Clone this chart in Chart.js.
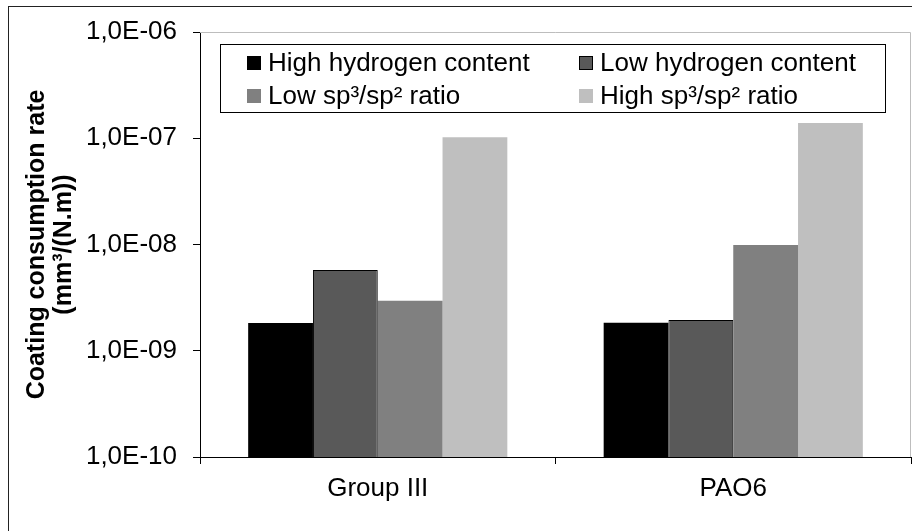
<!DOCTYPE html>
<html>
<head>
<meta charset="utf-8">
<script src="https://cdn.jsdelivr.net/npm/chart.js@4"></script>
<style>
  html, body { margin: 0; padding: 0; background: #fff; }
  #wrap { width: 912px; height: 531px; position: relative; }
</style>
</head>
<body>
<div id="wrap"><canvas id="chart" width="912" height="531"></canvas></div>
<script>
const categories = ["Group III", "PAO6"];
const seriesNames = ["High hydrogen content", "Low hydrogen content", "Low sp³/sp² ratio", "High sp³/sp² ratio"];
const highHydrogen = [1.82e-9, 1.83e-9];
const lowHydrogen = [5.75e-9, 1.95e-9];
const lowSpRatio = [2.96e-9, 9.9e-9];
const highSpRatio = [1.02e-7, 1.39e-7];
const yTicks = [1e-10, 1e-9, 1e-8, 1e-7, 1e-6];

const FONT = "'Liberation Sans', Arial, sans-serif";

function fmtExp(v) {
  // 1,0E-06 style labels
  const e = Math.round(Math.log10(v));
  const m = v / Math.pow(10, e);
  const sign = e < 0 ? "-" : "+";
  return m.toFixed(1).replace(".", ",") + "E" + sign + String(Math.abs(e)).padStart(2, "0");
}

// frame, plot border and the boxed legend inside the plot area
const decor = {
  id: "decor",
  beforeDraw(chart) {
    const ctx = chart.ctx;
    ctx.save();
    ctx.strokeStyle = "#222";
    ctx.lineWidth = 1;
    ctx.strokeRect(8.5, 6.5, 1200, 1200);
    ctx.restore();
  },
  afterDatasetsDraw(chart) {
    const ctx = chart.ctx;
    const a = chart.chartArea;
    ctx.save();
    ctx.strokeStyle = "#bdbdbd";
    ctx.lineWidth = 1;
    ctx.beginPath();
    ctx.moveTo(a.left, a.top + 0.5);
    ctx.lineTo(a.right - 0.5, a.top + 0.5);
    ctx.lineTo(a.right - 0.5, a.bottom);
    ctx.stroke();

    // legend box
    const bx = 220, by = 44, bw = 665, bh = 68;
    ctx.fillStyle = "#fff";
    ctx.fillRect(bx, by, bw, bh);
    ctx.strokeStyle = "#000";
    ctx.strokeRect(bx + 0.5, by + 0.5, bw, bh);
    ctx.font = "26px " + FONT;
    ctx.textBaseline = "middle";
    const cols = [247, 579];
    const rows = [63, 96];
    chart.data.datasets.forEach((ds, i) => {
      const x = cols[i % 2], y = rows[Math.floor(i / 2)];
      ctx.fillStyle = ds.backgroundColor;
      ctx.fillRect(x, y - 7, 14, 14);
      if (ds.borderWidth) {
        ctx.strokeStyle = ds.borderColor;
        ctx.strokeRect(x + 0.5, y - 6.5, 13, 13);
      }
      ctx.fillStyle = "#000";
      ctx.fillText(ds.label, x + 21, y + 1);
    });
    ctx.restore();
  }
};

const ctx = document.getElementById("chart").getContext("2d");
const colors = ["#000000", "#595959", "#808080", "#bfbfbf"];
const seriesData = [highHydrogen, lowHydrogen, lowSpRatio, highSpRatio];

new Chart(ctx, {
  type: "bar",
  data: {
    labels: categories,
    datasets: seriesNames.map((name, i) => ({
      label: name,
      data: seriesData[i],
      backgroundColor: colors[i],
      borderColor: "#000",
      borderWidth: i === 1 ? 1 : 0,
      borderSkipped: "bottom",
      barPercentage: 1.0,
      categoryPercentage: 0.729,
    })),
  },
  options: {
    responsive: false,
    animation: false,
    devicePixelRatio: 1,
    layout: { padding: { left: 0, top: 32, right: 1, bottom: 0 } },
    plugins: {
      legend: { display: false },
      tooltip: { enabled: false },
    },
    scales: {
      x: {
        grid: {
          display: true,
          drawOnChartArea: false,
          drawTicks: true,
          tickLength: 7,
          color: "#000",
          offset: true,
        },
        border: { color: "#000", width: 1 },
        ticks: {
          color: "#000",
          font: { family: FONT, size: 26 },
          padding: 9,
          maxRotation: 0,
        },
        afterFit(scale) { scale.height = 74; },
      },
      y: {
        type: "logarithmic",
        min: 1e-10,
        max: 1e-6,
        afterBuildTicks(scale) {
          scale.ticks = yTicks.map(v => ({ value: v }));
        },
        grid: {
          display: true,
          drawOnChartArea: false,
          drawTicks: true,
          tickLength: 7,
          color: "#000",
        },
        border: { color: "#000", width: 1 },
        ticks: {
          color: "#000",
          font: { family: FONT, size: 26 },
          padding: 16,
          callback: (v) => fmtExp(v),
        },
        title: {
          display: true,
          text: ["Coating consumption rate", "(mm³/(N.m))"],
          color: "#000",
          font: { family: FONT, size: 25, weight: "bold", lineHeight: 1.1 },
          padding: { top: 23, bottom: 0 },
        },
        afterFit(scale) { scale.width = 200; },
      },
    },
  },
  plugins: [decor],
});
</script>
</body>
</html>
